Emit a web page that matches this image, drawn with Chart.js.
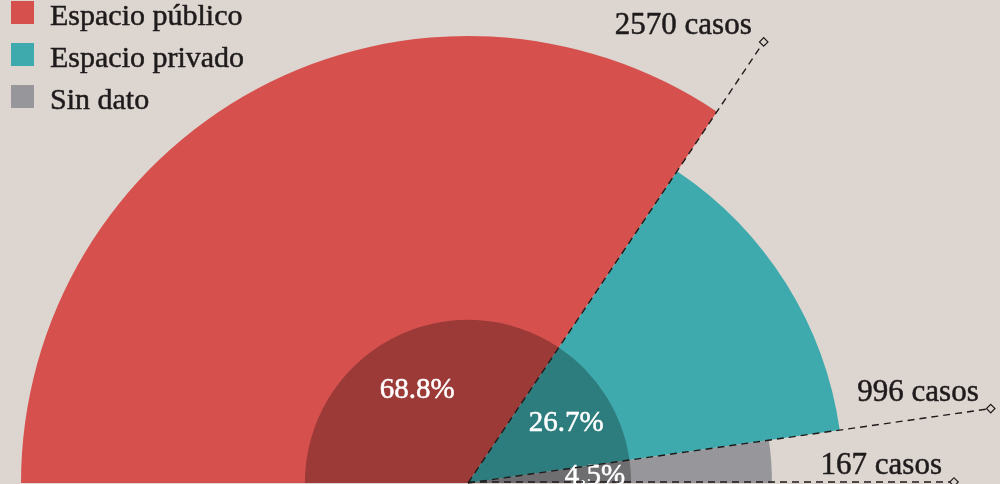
<!DOCTYPE html>
<html>
<head>
<meta charset="utf-8">
<script src="https://cdn.jsdelivr.net/npm/chart.js@4/dist/chart.umd.min.js"></script>
<style>
    html, body { margin: 0; padding: 0; background: #ddd6d0; overflow: hidden; }
    #wrap { width: 1000px; height: 484px; overflow: hidden; }
</style>
</head>
<body>
<div id="wrap"><canvas id="lugarChart" width="1000" height="966"></canvas></div>
<script>
const categorias = ['Espacio público', 'Espacio privado', 'Sin dato'];
const casos = [2570, 996, 167];
const porcentajes = [68.8, 26.7, 4.5];
// radio de cada sector (escala 0-100)
const radios = [100, 84, 68];
const radioInterior = [36.5, 36.5, 36.5];

const colores = ['#d6504d', '#3eaaad', '#97979b'];
const tinta = '#1f1b1c';
const fondo = '#ddd6d0';
const serif = '"Liberation Serif", "DejaVu Serif", serif';

// semicirculo: cada porcentaje ocupa su parte de 180 grados
const angulos = porcentajes.map(p => p * 1.8);

function texto(ctx, t, x, y, color) {
    ctx.fillStyle = color;
    ctx.strokeStyle = color;
    ctx.lineWidth = 0.5;
    ctx.fillText(t, x, y);
    ctx.strokeText(t, x, y);
}

const anotaciones = {
    id: 'anotaciones',
    afterDatasetsDraw(chart, args, opts) {
        const ctx = chart.ctx;
        const arcs = chart.getDatasetMeta(1).data;
        const inner = chart.getDatasetMeta(0).data;

        // porcentajes en blanco
        ctx.save();
        ctx.font = '29px ' + serif;
        ctx.textAlign = 'center';
        ctx.textBaseline = 'alphabetic';
        inner.forEach((a, i) => {
            const mid = (a.startAngle + a.endAngle) / 2;
            const r = a.outerRadius * opts.labelPos[i];
            texto(ctx, porcentajes[i].toFixed(1) + '%', a.x + Math.cos(mid) * r, a.y + Math.sin(mid) * r + 10, '#ffffff');
        });
        ctx.restore();

        // lineas punteadas y casos
        arcs.forEach((a, i) => {
            const ang = a.endAngle;
            const len = opts.leader[i];
            const dy = i === 2 ? -1 : 0;
            const ex = a.x + Math.cos(ang) * len;
            const ey = a.y + Math.sin(ang) * len + dy;
            ctx.save();
            ctx.strokeStyle = tinta;
            ctx.lineWidth = 1.4;
            ctx.setLineDash([7, 5]);
            ctx.beginPath();
            ctx.moveTo(a.x, a.y + dy);
            ctx.lineTo(ex, ey);
            ctx.stroke();
            ctx.setLineDash([]);
            ctx.lineWidth = 1.2;
            ctx.translate(ex, ey);
            ctx.rotate(Math.PI / 4);
            ctx.fillStyle = fondo;
            ctx.fillRect(-3, -3, 6, 6);
            ctx.strokeRect(-3, -3, 6, 6);
            ctx.restore();

            ctx.save();
            ctx.font = '31px ' + serif;
            ctx.textAlign = 'right';
            ctx.textBaseline = 'alphabetic';
            texto(ctx, casos[i] + ' casos', ex - 12, ey - 8, tinta);
            ctx.restore();
        });

        // leyenda
        ctx.save();
        ctx.font = '30px ' + serif;
        ctx.textBaseline = 'alphabetic';
        categorias.forEach((c, i) => {
            const y = 1 + i * 42;
            ctx.fillStyle = colores[i];
            ctx.fillRect(11, y, 23, 23);
            texto(ctx, c, 50, y + 24, tinta);
        });
        ctx.restore();
    }
};

const ctx = document.getElementById('lugarChart').getContext('2d');
const chart = new Chart(ctx, {
    type: 'polarArea',
    data: {
        labels: categorias,
        datasets: [
            {
                label: 'interior',
                data: radioInterior,
                backgroundColor: 'rgba(0, 0, 0, 0.27)',
                borderWidth: 0,
                angle: angulos,
                order: 0
            },
            {
                label: 'casos',
                data: radios,
                backgroundColor: colores,
                borderWidth: 0,
                angle: angulos,
                order: 1
            }
        ]
    },
    plugins: [anotaciones],
    options: {
        responsive: false,
        animation: false,
        layout: {
            padding: { left: 21, right: 85, top: 36, bottom: 36 }
        },
        scales: {
            r: {
                display: false,
                min: 0,
                max: 100,
                startAngle: -90,
                ticks: { display: false },
                pointLabels: { display: false }
            }
        },
        plugins: {
            legend: { display: false },
            tooltip: { enabled: false },
            anotaciones: {
                leader: [531, 528, 486],
                labelPos: [0.66, 0.71, 0.78]
            }
        }
    }
});
</script>
</body>
</html>
